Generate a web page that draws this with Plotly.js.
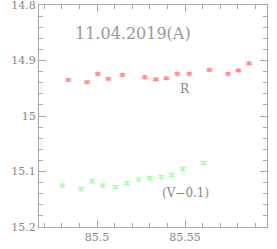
<!DOCTYPE html>
<html><head><meta charset="utf-8">
<script src="https://cdn.plot.ly/plotly-3.0.1.min.js"></script>
<style>html,body{margin:0;padding:0;background:#fff;}#plot{width:277px;height:249px;}</style>
</head><body><div id="plot"></div>
<script>
const rX = [85.4837,85.4943,85.5004,85.5064,85.5144,85.5271,85.5334,85.5394,85.5456,85.5524,85.5638,85.5744,85.5803,85.5864];
const rY = [14.935,14.939,14.924,14.933,14.926,14.930,14.934,14.932,14.924,14.924,14.917,14.924,14.918,14.905];
const rErr = [0.002,0.002,0.002,0.002,0.002,0.002,0.002,0.002,0.002,0.002,0.002,0.002,0.002,0.002];
const gX = [85.4803,85.4909,85.4972,85.5032,85.5104,85.5170,85.5236,85.5299,85.5365,85.5424,85.5487,85.5604];
const gY = [15.1256,15.1321,15.1177,15.1256,15.1285,15.1207,15.1148,15.1123,15.1105,15.1063,15.0955,15.0847];
const gErr = [0.003,0.003,0.003,0.003,0.003,0.003,0.003,0.003,0.003,0.003,0.003,0.003];

const fontFam = '"DejaVu Serif", "Liberation Serif", serif';
const grey = '#888';
const traces = [
  {x:rX, y:rY, mode:'markers', type:'scatter',
   marker:{symbol:'asterisk-open', size:4, color:'#ff8a8a', line:{color:'#ff8a8a', width:1}},
   error_y:{type:'data', array:rErr, visible:true, color:'#ff8a8a', thickness:1, width:3}},
  {x:gX, y:gY, mode:'markers', type:'scatter',
   marker:{symbol:'line-ew-open', size:3, color:'#99ff99', line:{color:'#99ff99', width:1}},
   error_y:{type:'data', array:gErr, visible:true, color:'#99ff99', thickness:1, width:3}}
];
const axBase = {showgrid:false, zeroline:false, showline:true, linecolor:'#aaa', linewidth:1,
  mirror:'allticks', ticks:'inside', tickcolor:'#aaa', ticklen:7, tickwidth:1,
  ticklabeloverflow:'allow',
  tickfont:{family:fontFam, size:11, color:grey}};
const layout = {
  width:277, height:249, margin:{l:39, r:10, t:5, b:22},
  paper_bgcolor:'#fff', plot_bgcolor:'#fff', showlegend:false,
  xaxis: Object.assign({}, axBase, {range:[85.467,85.5966], dtick:0.05, tick0:85.5,
     minor:{dtick:0.01, ticks:'inside', ticklen:4, tickcolor:'#aaa'}}),
  yaxis: Object.assign({}, axBase, {range:[15.2002,14.7998], dtick:0.1, tick0:14.8,
     minor:{dtick:0.02, ticks:'inside', ticklen:4, tickcolor:'#aaa'}}),
  annotations:[
    {text:'11.04.2019(A)', x:85.5205, y:14.851, xref:'x', yref:'y', showarrow:false,
     font:{family:fontFam, size:16, color:'#999'}},
    {text:'R', x:85.55, y:14.951, xref:'x', yref:'y', showarrow:false,
     font:{family:fontFam, size:12, color:grey}},
    {text:'(V\u22120.1)', x:85.55, y:15.138, xref:'x', yref:'y', showarrow:false,
     font:{family:fontFam, size:12, color:grey}}
  ]
};
Plotly.newPlot('plot', traces, layout, {staticPlot:true, displayModeBar:false});
</script></body></html>
